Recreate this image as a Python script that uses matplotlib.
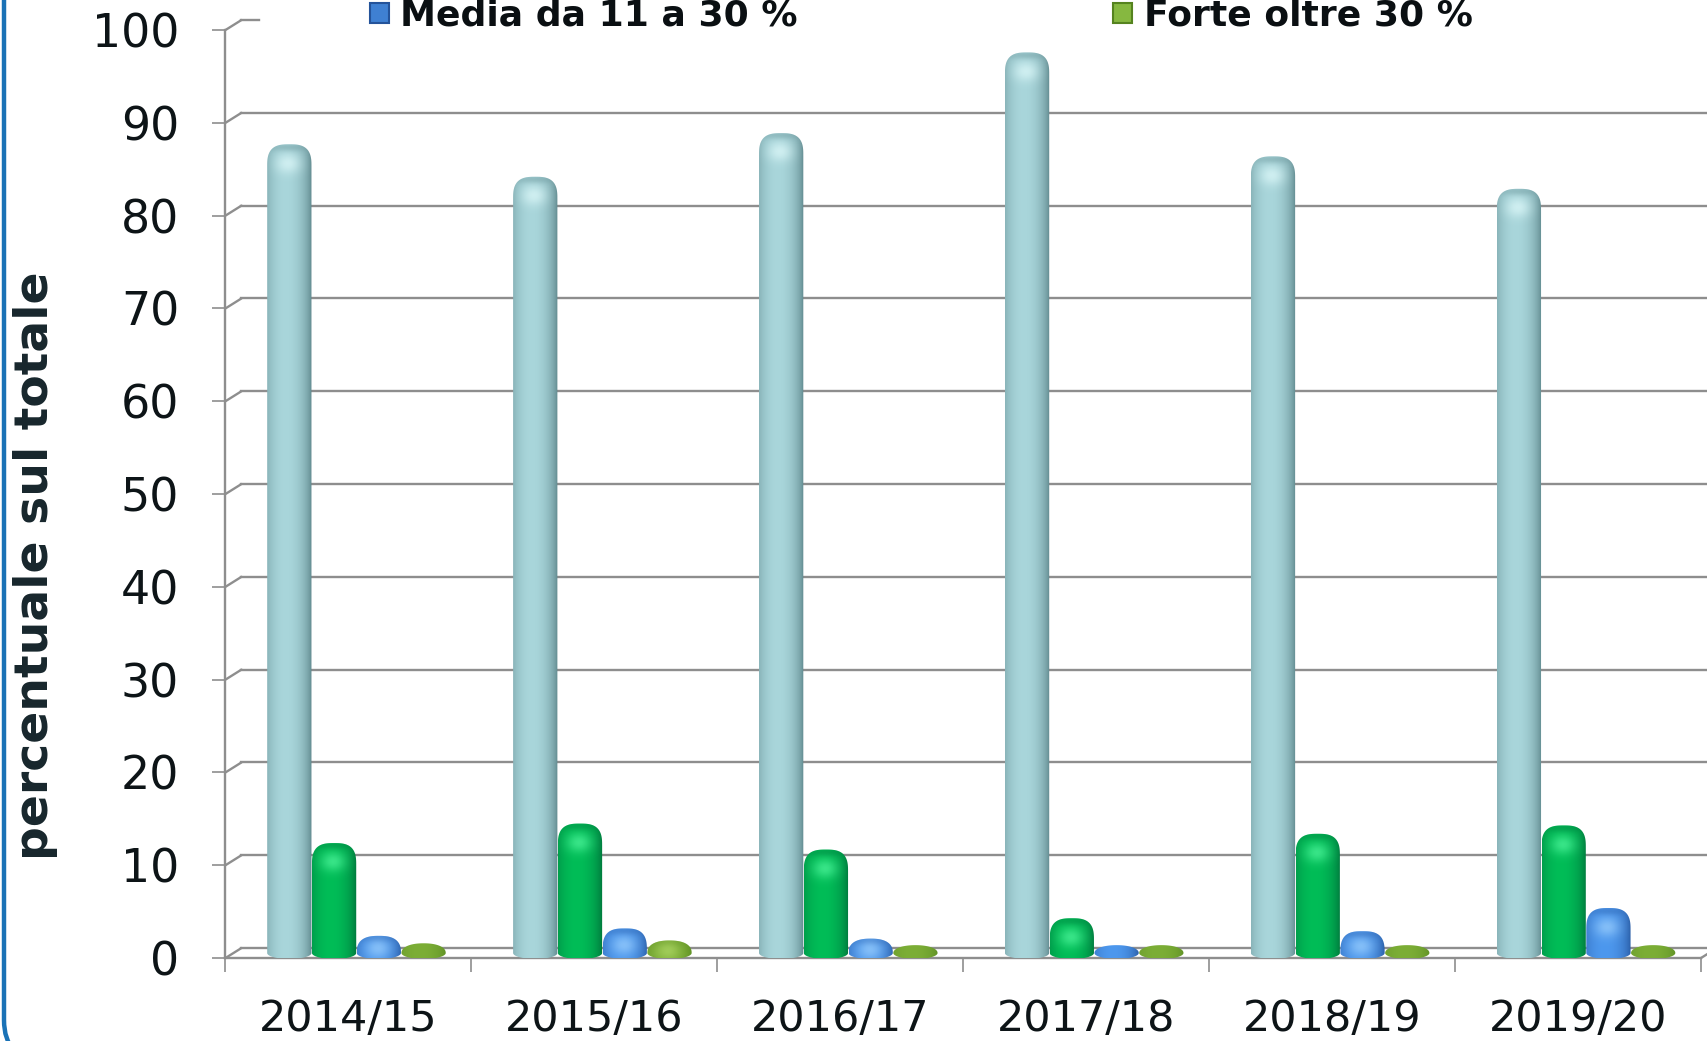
import numpy as np
import matplotlib
matplotlib.use("Agg")
import matplotlib.pyplot as plt
from matplotlib.path import Path
from matplotlib.patches import PathPatch, ConnectionPatch, Rectangle, FancyBboxPatch
from matplotlib.transforms import ScaledTranslation
from matplotlib.colors import to_rgb

# ---- data (percent of total per season) ----
stagioni = ["2014/15", "2015/16", "2016/17", "2017/18", "2018/19", "2019/20"]
classe_1 = [86.5, 83.0, 87.7, 96.4, 85.2, 81.7]
classe_2 = [11.2, 13.3, 10.5, 3.1, 12.2, 13.1]
media = [1.2, 2.0, 0.9, 0.2, 1.7, 4.2]
forte = [0.4, 0.7, 0.2, 0.2, 0.2, 0.2]
etichetta_media = "Media da 11 a 30 %"
etichetta_forte = "Forte oltre 30 %"
y_ticks = list(range(0, 101, 10))
y_label = "percentuale sul totale"

# (dark edge, light centre, highlight) for each cylinder series
series = [
    (classe_1, "#5a8388", "#a9d6db", "#e8ffff"),
    (classe_2, "#00703a", "#00bd57", "#5dffa8"),
    (media, "#285aa3", "#4d98ee", "#a8d8ff"),
    (forte, "#5e8f24", "#7cae36", "#b8e070"),
]

W, H, DPI = 1708, 1041, 100
fig = plt.figure(figsize=(W / DPI, H / DPI), dpi=DPI, facecolor="white")
ax = fig.add_axes([225.5 / W, 83 / H, (1701 - 225.5) / W, (1011 - 83) / H])
ax.set_facecolor("none")
for sp in ax.spines.values():
    sp.set_visible(False)

grid_c = "#8e8e8e"
lw = 1.7

# depth planes: back wall and mid-depth (where the cylinders stand)
back = ax.transData + ScaledTranslation(16 / DPI, 10 / DPI, fig.dpi_scale_trans)
mid = ax.transData + ScaledTranslation(8 / DPI, 5 / DPI, fig.dpi_scale_trans)

# back-wall gridlines with their left-wall diagonals (top edge is only a stub)
for v in y_ticks:
    x_end = 0.07 if v == y_ticks[-1] else 6.2
    ax.plot([0, x_end], [v, v], color=grid_c, lw=lw, transform=back, clip_on=False, zorder=1)
    cp = ConnectionPatch((0, v), (0, v), coordsA=ax.transData, coordsB=back,
                         color=grid_c, lw=lw, zorder=1)
    cp.set_clip_on(False)
    ax.add_artist(cp)

# floor front edge, right diagonal and left vertical edge
ax.plot([0, 6], [0, 0], color=grid_c, lw=lw, clip_on=False, zorder=1)
cp = ConnectionPatch((6, 0), (6, 0), coordsA=ax.transData, coordsB=back, color=grid_c, lw=lw, zorder=1)
cp.set_clip_on(False)
ax.add_artist(cp)
ax.plot([0, 0], [0, 100], color=grid_c, lw=lw, clip_on=False, zorder=1)

ax.set_xlim(0, 6)
ax.set_ylim(0, 100)

# ---- cylinders ----
px_x = ax.bbox.width / 6.0
px_y = ax.bbox.height / 100.0
ey = 6.0 / px_y          # half-height of the base ellipse
rd = 16.0 / px_y         # rounding of the top cap

def cylinder_path(x0, w, h):
    a = w / 2.0
    xc = x0 + a
    rde = min(rd, h)
    yb = h - rde
    b = rde + ey
    nexp = 2.0 + 0.9 * min(h / rd, 1.0)
    t = np.linspace(0, np.pi, 90)
    c, s = np.cos(t), np.sin(t)
    tx = xc + a * np.sign(c) * np.abs(c) ** (2 / nexp)
    ty = yb + b * np.abs(s) ** (2 / nexp)
    t2 = np.linspace(np.pi, 2 * np.pi, 60)
    bx = xc + a * np.cos(t2)
    by = ey * np.sin(t2)
    verts = np.column_stack([np.concatenate([tx, bx]), np.concatenate([ty, by])])
    verts = np.vstack([verts, verts[:1]])
    codes = [Path.MOVETO] + [Path.LINETO] * (len(verts) - 2) + [Path.CLOSEPOLY]
    return Path(verts, codes)

prof = np.linspace(0, 1, 160)
shade = np.clip(1 - ((prof - 0.42) / 0.58) ** 2, 0, 1) ** 0.7

bar_w = 0.18
step = 0.182
offsets = (np.arange(len(series)) - 1.5) * step + 0.5
xpos = np.arange(len(stagioni))

for k, (vals, dark, light, spec) in enumerate(series):
    bars = ax.bar(xpos + offsets[k], vals, width=bar_w, color="none",
                  edgecolor="none", transform=mid, zorder=3)
    d, l, sp_c = np.array(to_rgb(dark)), np.array(to_rgb(light)), np.array(to_rgb(spec))
    body = d[None, :] * (1 - shade[:, None]) + l[None, :] * shade[:, None]
    for rect in bars.patches:
        x0, w, h = rect.get_x(), rect.get_width(), rect.get_height()
        path = cylinder_path(x0, w, h)
        clip = PathPatch(path, transform=mid, facecolor="none", edgecolor="none")
        ax.add_patch(clip)
        top = h + ey
        im = ax.imshow(body[None, :, :], extent=(x0, x0 + w, -ey, top), transform=mid,
                       aspect="auto", interpolation="bilinear", zorder=3 + k * 0.01)
        im.set_clip_path(clip)
        if h > 0.5:
            lo = max(-ey, top - 8.0)
            gx = np.linspace(x0, x0 + w, 80)
            gy = np.linspace(lo, top, 80)
            X, Y = np.meshgrid(gx, gy)
            hx, hy = x0 + 0.47 * w, top - min(19.0 / px_y, 0.55 * (h + 2 * ey))
            sx, sy = 0.2 * w, 7.0 / px_y
            alpha = 0.6 * np.exp(-0.5 * ((X - hx) / sx) ** 2 - 0.5 * ((Y - hy) / sy) ** 2)
            rgba = np.zeros(X.shape + (4,))
            rgba[..., :3] = sp_c
            rgba[..., 3] = alpha
            # darker far rim of the cap
            rim = 0.35 * np.exp(-0.5 * ((Y - (top - 3.0 / px_y)) / (3.0 / px_y)) ** 2) \
                * np.exp(-0.5 * ((X - (x0 + 0.5 * w)) / (0.35 * w)) ** 2)
            rgba2 = np.zeros(X.shape + (4,))
            rgba2[..., :3] = d
            rgba2[..., 3] = rim
            rm = ax.imshow(rgba2, extent=(x0, x0 + w, lo, top), origin="lower", transform=mid,
                           aspect="auto", interpolation="bilinear", zorder=3.4 + k * 0.01)
            rm.set_clip_path(clip)
            hi = ax.imshow(rgba, extent=(x0, x0 + w, lo, top), origin="lower", transform=mid,
                           aspect="auto", interpolation="bilinear", zorder=3.5 + k * 0.01)
            hi.set_clip_path(clip)

ax.set_xlim(0, 6)
ax.set_ylim(0, 100)

# ---- ticks ----
ax.set_yticks(y_ticks)
ax.tick_params(axis="y", length=9.4, width=1.2, color=grid_c, pad=24,
               labelsize=33, labelcolor="#0d1417")
ax.set_xticks(range(7))
ax.set_xticklabels([])
ax.set_xticks(xpos + 0.5, stagioni, minor=True)
ax.tick_params(axis="x", which="major", length=10, width=1.2, color=grid_c)
ax.tick_params(axis="x", which="minor", length=0, pad=29, labelsize=31, labelcolor="#0d1417")

fig.text(36 / W, 1 - 566 / H, y_label, rotation=90, ha="center", va="center",
         fontsize=34, fontweight="bold", color="#17262c")

# ---- legend row ----
for (sx0, tx0, lab, fc, ec) in [
    (370, 400, etichetta_media, "#3f80d2", "#24539a"),
    (1113, 1144, etichetta_forte, "#86b840", "#55831f"),
]:
    fig.patches.append(Rectangle((sx0 / W, 1 - 23 / H), 19 / W, 20 / H, transform=fig.transFigure,
                                 facecolor=fc, edgecolor=ec, lw=1.5))
    fig.text(tx0 / W, 1 - 25 / H, lab, ha="left", va="baseline", fontsize=26,
             fontweight="bold", color="#0a0f12")

# outer rounded frame
frame = FancyBboxPatch((4 / DPI, -19 / DPI), 30, 30,
                       boxstyle="round,pad=0,rounding_size=0.4",
                       transform=fig.dpi_scale_trans, facecolor="none",
                       edgecolor="#1a72b6", lw=3.2)
fig.patches.append(frame)

fig.savefig("out.png", dpi=DPI)
